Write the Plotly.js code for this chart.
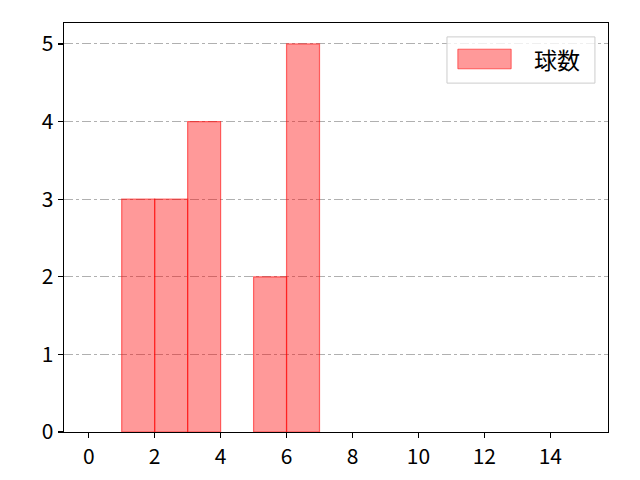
<!DOCTYPE html>
<html>
<head>
<meta charset="utf-8">
<script src="https://cdn.plot.ly/plotly-3.0.1.min.js"></script>
<style>
  html, body { margin: 0; padding: 0; background: #fff; }
  #chart { width: 640px; height: 480px; }
</style>
</head>
<body>
<div id="chart"></div>
<script>
"use strict";

// ビンの左端と各ビンの球数
const binStarts = [1, 2, 3, 5, 6];
const counts = [3, 3, 4, 2, 5];
const binWidth = 1;
const seriesName = '球数';
const xTicks = [0, 2, 4, 6, 8, 10, 12, 14];
const yTicks = [0, 1, 2, 3, 4, 5];

const fontFamily = '"Noto Sans CJK JP", "DejaVu Sans", sans-serif';
const barFill = 'rgba(255, 0, 0, 0.4)';
const barEdge = 'rgba(255, 0, 0, 0.55)';

const trace = {
    type: 'bar',
    name: seriesName,
    x: binStarts.map(s => s + binWidth / 2),
    y: counts,
    width: binStarts.map(() => binWidth),
    marker: { color: barFill, line: { color: barEdge, width: 1.2 } },
    showlegend: false
};

const axisCommon = {
    showline: true,
    linecolor: '#000',
    linewidth: 1.4,
    mirror: true,
    ticks: 'outside',
    ticklen: 5,
    tickwidth: 1.2,
    tickcolor: '#000',
    zeroline: false,
    tickfont: { family: fontFamily, size: 21, color: '#000' }
};

// 凡例 (matplotlib風の横長パッチ)
const legendShapes = [
    { type: 'rect', xref: 'paper', yref: 'paper', x0: 0.704, x1: 0.976, y0: 0.853, y1: 0.966,
      fillcolor: 'rgba(255,255,255,0.8)', line: { color: '#cccccc', width: 1 } },
    { type: 'rect', xref: 'paper', yref: 'paper', x0: 0.724, x1: 0.822, y0: 0.888, y1: 0.936,
      fillcolor: barFill, line: { color: barEdge, width: 1 } }
];
const legendText = [
    { xref: 'paper', yref: 'paper', x: 0.86, y: 0.912, xanchor: 'left', yanchor: 'middle',
      text: seriesName, showarrow: false, font: { family: fontFamily, size: 23, color: '#000' } }
];

const layout = {
    width: 640,
    height: 480,
    margin: { l: 64, r: 32, t: 23, b: 48 },
    paper_bgcolor: '#fff',
    plot_bgcolor: '#fff',
    font: { family: fontFamily, color: '#000' },
    bargap: 0,
    showlegend: false,
    xaxis: {
        ...axisCommon,
        range: [-0.75, 15.75],
        tickvals: xTicks,
        showgrid: false
    },
    yaxis: {
        ...axisCommon,
        range: [0, 5.27],
        tickvals: yTicks,
        showgrid: true,
        gridcolor: '#b0b0b0',
        gridwidth: 1,
        griddash: 'dashdot'
    },
    shapes: legendShapes,
    annotations: legendText
};

Plotly.newPlot('chart', [trace], layout, { staticPlot: true });
</script>
</body>
</html>
